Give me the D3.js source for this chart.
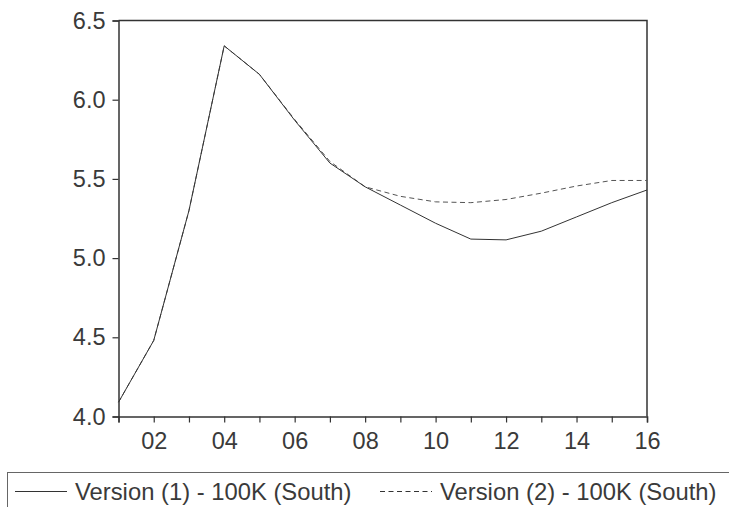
<!DOCTYPE html>
<html lang="en">
<head>
<meta charset="UTF-8">
<title>Version comparison - 100K (South)</title>
<script src="https://cdnjs.cloudflare.com/ajax/libs/d3/7.8.5/d3.min.js"></script>
<style>
    body { margin: 0; background: #fff; }
    svg { display: block; font-family: "Liberation Sans", Arial, sans-serif; }
    .axis text { font-size: 23.5px; fill: #3a3a3a; }
    .axis line, .axis path { stroke: #333; }
</style>
</head>
<body>
<svg width="729" height="507"></svg>
<script>
    // Data
    const years = d3.range(2001, 2017);
    const version1 = [4.09, 4.48, 5.30, 6.34, 6.16, 5.87, 5.60, 5.45, 5.335, 5.22, 5.12, 5.115, 5.17, 5.26, 5.35, 5.43];
    const version2 = [4.09, 4.48, 5.30, 6.34, 6.16, 5.875, 5.61, 5.45, 5.39, 5.355, 5.35, 5.37, 5.41, 5.455, 5.49, 5.49];
    const yTicks = [4.0, 4.5, 5.0, 5.5, 6.0, 6.5];
    const seriesNames = ["Version (1) - 100K (South)", "Version (2) - 100K (South)"];

    const svg = d3.select("svg");
    const plotLeft = 118.5, plotRight = 647, plotTop = 20.5, plotBottom = 416.5;

    const x = d3.scaleLinear().domain([2001, 2016]).range([plotLeft, plotRight]);
    const y = d3.scaleLinear().domain([4.0, 6.5]).range([plotBottom, plotTop]);

    // Frame (top and right edges)
    svg.append("path")
        .attr("d", `M${plotLeft},${plotTop}H${plotRight}V${plotBottom}`)
        .attr("fill", "none")
        .attr("stroke", "#333")
        .attr("stroke-width", 1.5);

    // Axes
    svg.append("g")
        .attr("class", "axis")
        .attr("transform", `translate(${plotLeft},0)`)
        .call(d3.axisLeft(y).tickValues(yTicks).tickFormat(d3.format(".1f")).tickSizeOuter(0).tickSize(6).tickPadding(7))
        .call(g => g.select(".domain").attr("stroke-width", 1.5))
        .call(g => g.selectAll(".tick line").attr("stroke-width", 1.2));

    svg.append("g")
        .attr("class", "axis")
        .attr("transform", `translate(0,${plotBottom})`)
        .call(d3.axisBottom(x).tickValues(years).tickSizeOuter(0).tickSize(6).tickPadding(10)
            .tickFormat(d => d % 2 === 0 ? String(d % 100).padStart(2, "0") : ""))
        .call(g => g.select(".domain").attr("stroke-width", 1.5))
        .call(g => g.selectAll(".tick line").attr("stroke-width", 1.2));

    // Lines
    const line = d3.line()
        .x((d, i) => x(years[i]))
        .y(d => y(d));

    svg.append("path")
        .datum(version2)
        .attr("fill", "none")
        .attr("stroke", "#555")
        .attr("stroke-width", 1)
        .attr("stroke-dasharray", "5,3.5")
        .attr("d", line);

    svg.append("path")
        .datum(version1)
        .attr("fill", "none")
        .attr("stroke", "#333")
        .attr("stroke-width", 1)
        .attr("d", line);

    // Legend
    svg.append("rect")
        .attr("x", 7.5)
        .attr("y", 472.5)
        .attr("width", 760)
        .attr("height", 60)
        .attr("fill", "none")
        .attr("stroke", "#666")
        .attr("stroke-width", 1);

    const legendItems = [
        { name: seriesNames[0], x0: 15, dash: null },
        { name: seriesNames[1], x0: 380, dash: "5,3.5" }
    ];

    const legend = svg.append("g").selectAll("g")
        .data(legendItems)
        .enter()
        .append("g");

    legend.append("line")
        .attr("x1", d => d.x0)
        .attr("x2", d => d.x0 + 52)
        .attr("y1", 491.5)
        .attr("y2", 491.5)
        .attr("stroke", "#333")
        .attr("stroke-width", 1)
        .attr("stroke-dasharray", d => d.dash);

    legend.append("text")
        .attr("x", d => d.x0 + 60)
        .attr("y", 499.5)
        .attr("font-size", 23.8)
        .attr("fill", "#3a3a3a")
        .text(d => d.name);
</script>
</body>
</html>
